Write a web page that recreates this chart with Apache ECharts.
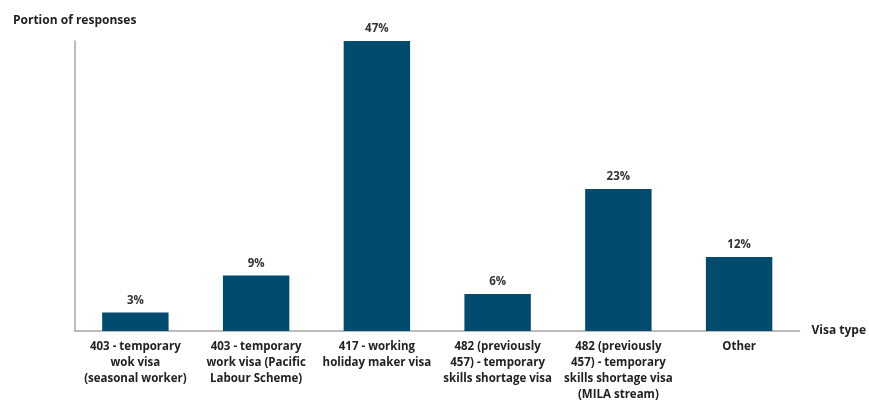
<!DOCTYPE html>
<html>
<head>
<meta charset="utf-8">
<script src="https://cdn.jsdelivr.net/npm/echarts@6/dist/echarts.min.js"></script>
<style>
  html, body { margin: 0; padding: 0; background: #fff; }
  #chart { width: 869px; height: 403px; }
</style>
</head>
<body>
<div id="chart"></div>
<script>
// Visa categories and share of responses (%)
const categories = [
  '403 - temporary\nwok visa\n(seasonal worker)',
  '403 - temporary\nwork visa (Pacific\nLabour Scheme)',
  '417 - working\nholiday maker visa',
  '482 (previously\n457) - temporary\nskills shortage visa',
  '482 (previously\n457) - temporary\nskills shortage visa\n(MILA stream)',
  'Other'
];
const shares = [3, 9, 47, 6, 23, 12];

const FONT = '"Open Sans", "Liberation Sans", sans-serif';
const chart = echarts.init(document.getElementById('chart'));

chart.setOption({
  animation: false,
  grid: { left: 75, right: 68, top: 41, bottom: 63, containLabel: false },
  xAxis: {
    type: 'category',
    data: categories,
    name: 'Visa type',
    nameLocation: 'end',
    nameGap: 12,
    nameTextStyle: { fontFamily: FONT, fontWeight: 'bold', fontSize: 12, color: '#222' },
    axisLine: { lineStyle: { color: '#a6a6a6', width: 1.5 } },
    axisTick: { show: false },
    axisLabel: {
      interval: 0,
      margin: 8,
      fontFamily: FONT,
      fontWeight: 'bold',
      fontSize: 11.5,
      lineHeight: 16,
      color: '#222'
    }
  },
  yAxis: {
    type: 'value',
    min: 0,
    max: 47,
    name: 'Portion of responses',
    nameLocation: 'end',
    nameGap: 14,
    nameTextStyle: { fontFamily: FONT, fontWeight: 'bold', fontSize: 12, color: '#222', align: 'left', padding: [0, 0, 0, -62] },
    axisLine: { show: true, lineStyle: { color: '#a6a6a6', width: 1.5 } },
    axisTick: { show: false },
    axisLabel: { show: false },
    splitLine: { show: false }
  },
  series: [{
    type: 'bar',
    data: shares,
    barWidth: '55%',
    itemStyle: { color: '#004b6e' },
    label: {
      show: true,
      position: 'top',
      distance: 6,
      formatter: '{c}%',
      fontFamily: FONT,
      fontWeight: 'bold',
      fontSize: 11.5,
      color: '#333'
    }
  }]
});
</script>
</body>
</html>
